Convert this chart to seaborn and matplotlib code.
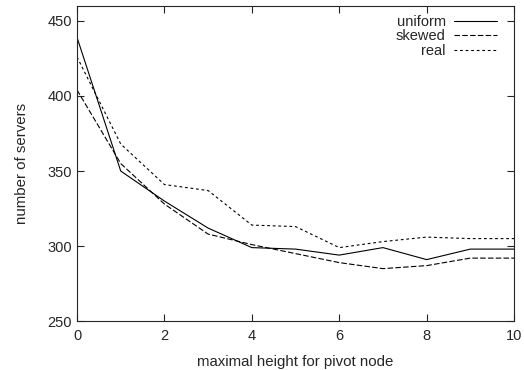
import numpy as np
import pandas as pd
import matplotlib
matplotlib.use("Agg")
import matplotlib.pyplot as plt
import seaborn as sns

heights = list(range(11))
uniform = [439, 350, 330, 312, 299, 298, 294, 299, 291, 298, 298]
skewed = [404, 355, 328, 308, 301, 295, 289, 285, 287, 292, 292]
real = [426, 368, 341, 337, 314, 313, 299, 303, 306, 305, 305]

df = pd.DataFrame({
    "height": heights * 3,
    "servers": uniform + skewed + real,
    "dist": ["uniform"] * 11 + ["skewed"] * 11 + ["real"] * 11,
})

sns.set_style("ticks")
plt.rcParams["font.family"] = ["Liberation Sans", "DejaVu Sans"]

fig = plt.figure(figsize=(5.24, 3.70), dpi=100)
ax = fig.add_axes([0.147, 0.132, 0.834, 0.852])
sns.lineplot(data=df, x="height", y="servers", style="dist",
             dashes={"uniform": "", "skewed": (5, 2), "real": (2.5, 2.5)},
             color="black", linewidth=0.8, ax=ax)

ax.set_xlim(0, 10)
ax.set_ylim(250, 460)
ax.set_xticks([0, 2, 4, 6, 8, 10])
ax.set_yticks([250, 300, 350, 400, 450])
ax.tick_params(direction="in", top=True, right=True, labelsize=10.5, length=5, width=0.8)
ax.tick_params(axis="x", pad=6)
for s in ax.spines.values():
    s.set_linewidth(0.8)
ax.set_xlabel("maximal height for pivot node", fontsize=10.8, labelpad=8)
ax.set_ylabel("number of servers", fontsize=10.8, labelpad=13)

leg = ax.legend(loc="upper right", bbox_to_anchor=(0.982, 1.0), frameon=False,
                markerfirst=False, fontsize=10.5, handlelength=3.0,
                handletextpad=0.55, labelspacing=0.05, borderaxespad=0.2)
for t in leg.get_texts():
    t.set_ha("right")

fig.savefig("out.png", dpi=100)
